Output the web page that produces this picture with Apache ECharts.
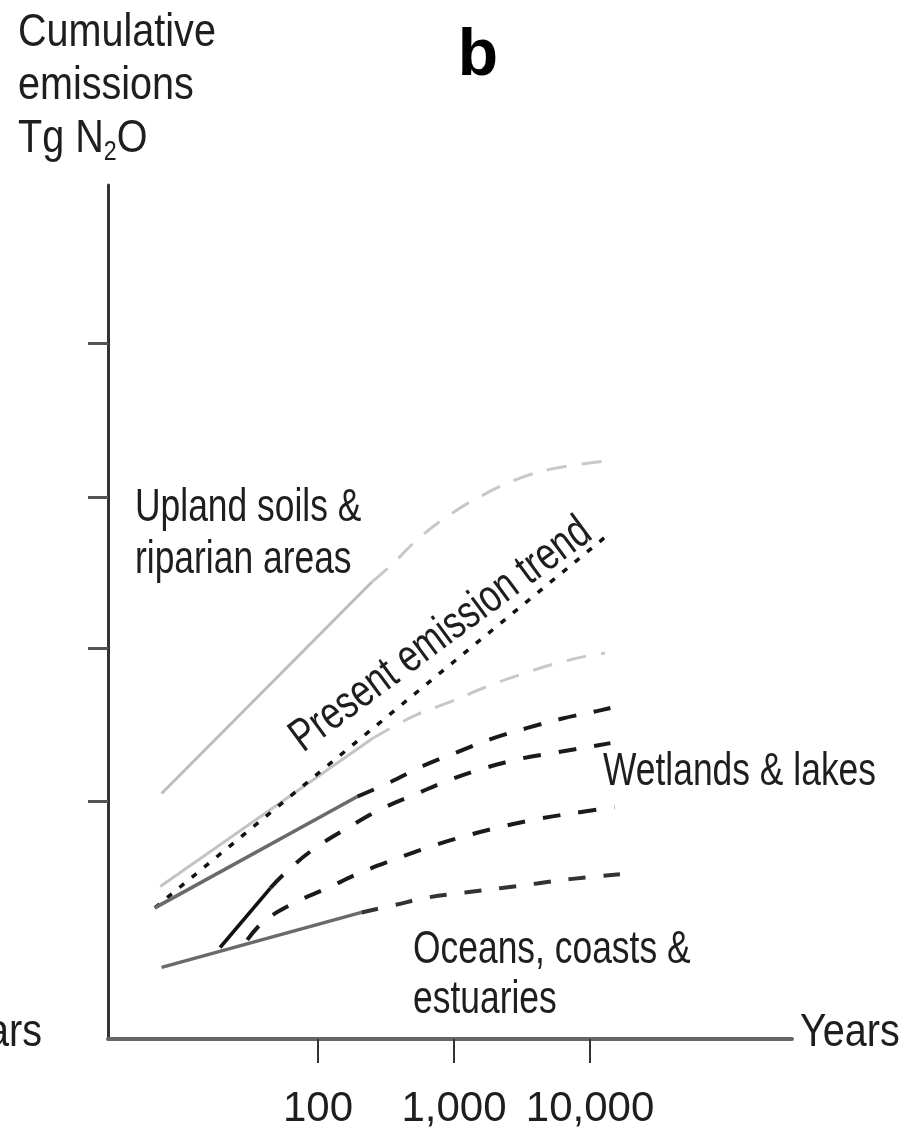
<!DOCTYPE html>
<html>
<head>
<meta charset="utf-8">
<script src="https://cdn.jsdelivr.net/npm/echarts@6/dist/echarts.min.js"></script>
<style>
html, body { margin: 0; padding: 0; background: #fff; }
#chart { width: 904px; height: 1131px; }
</style>
</head>
<body>
<div id="chart"></div>
<script>
// x = log10(years), y = cumulative emissions (schematic units, no scale given)
const xTickYears = [100, 1000, 10000]
const yTicks = [1.56, 2.56, 3.55, 4.56]

// upland soils & riparian areas (light grey)
const uplandHiSolid = [[0.85, 1.61], [2.40, 3.00]]
const uplandHiDash = [[2.40, 3.00], [2.53, 3.10], [2.75, 3.29], [2.99, 3.45], [3.24, 3.58], [3.49, 3.68], [3.73, 3.74], [4.11, 3.79]]
const uplandLoSolid = [[0.84, 1.00], [2.40, 1.97]]
const uplandLoDash = [[2.40, 1.97], [2.71, 2.12], [2.97, 2.21], [3.24, 2.31], [3.49, 2.39], [3.74, 2.46], [4.02, 2.52], [4.11, 2.53]]

// present emission trend (dotted)
const presentTrend = [[0.80, 0.86], [4.11, 3.29]]

// wetlands & lakes
const wetSolid = [[0.80, 0.86], [2.29, 1.59]]
const wet1Dash = [[2.29, 1.59], [2.52, 1.68], [2.77, 1.79], [3.02, 1.88], [3.28, 1.97], [3.54, 2.04], [3.79, 2.10], [4.05, 2.15], [4.15, 2.17]]
const wet2Solid = [[1.28, 0.60], [1.65, 0.99]]
const wet2Dash = [[1.65, 0.99], [1.76, 1.09], [1.96, 1.24], [2.21, 1.38], [2.47, 1.51], [2.73, 1.61], [2.97, 1.70], [3.24, 1.78], [3.50, 1.84], [3.76, 1.88], [4.02, 1.92], [4.15, 1.94]]
const wet3Dash = [[1.48, 0.65], [1.60, 0.77], [1.82, 0.89], [2.07, 0.99], [2.31, 1.09], [2.57, 1.18], [2.82, 1.26], [3.08, 1.33], [3.34, 1.39], [3.60, 1.44], [3.87, 1.48], [4.18, 1.52]]

// oceans, coasts & estuaries
const oceanSolid = [[0.85, 0.47], [2.32, 0.83]]
const oceanDash = [[2.32, 0.83], [2.57, 0.88], [2.82, 0.93], [3.08, 0.96], [3.35, 0.99], [3.61, 1.02], [3.87, 1.05], [4.22, 1.08]]

const FONT = "'Liberation Sans', Arial, sans-serif"
const INK = '#1e1e1e'

function line(data, color, width, type, smooth) {
  return {
    type: 'line',
    data: data,
    smooth: smooth || 0,
    showSymbol: false,
    silent: true,
    lineStyle: { color: color, width: width, type: type || 'solid', cap: 'butt' }
  }
}

// text squeezed horizontally to look like the narrow face of the original
function label(text, x, y, squeeze, opts) {
  return {
    type: 'text',
    x: x,
    y: y,
    scaleX: squeeze,
    rotation: (opts && opts.rotation) || 0,
    silent: true,
    style: Object.assign({
      text: text,
      font: '46px ' + FONT,
      fill: INK,
      align: 'left',
      verticalAlign: 'middle'
    }, (opts && opts.style) || {})
  }
}

let chart = echarts.init(document.getElementById('chart'))
chart.setOption({
  animation: false,
  backgroundColor: '#fff',
  grid: { left: 108, right: 112, top: 185, bottom: 92 },
  xAxis: {
    type: 'value',
    min: 0.456,
    max: 5.485,
    axisLine: { lineStyle: { color: '#666', width: 4 } },
    axisTick: {
      customValues: xTickYears.map(v => Math.log10(v)),
      length: 24,
      lineStyle: { color: '#333', width: 2 }
    },
    axisLabel: {
      customValues: xTickYears.map(v => Math.log10(v)),
      formatter: v => Math.round(Math.pow(10, v)).toLocaleString('en-US'),
      margin: 49,
      fontFamily: FONT,
      fontSize: 42,
      color: INK
    },
    splitLine: { show: false }
  },
  yAxis: {
    type: 'value',
    min: 0,
    max: 5.6,
    axisLine: { show: true, lineStyle: { color: '#333', width: 3 } },
    axisTick: {
      show: true,
      customValues: yTicks,
      length: 20,
      lineStyle: { color: '#555', width: 3 }
    },
    axisLabel: { show: false },
    splitLine: { show: false }
  },
  series: [
    line(uplandHiSolid, '#bdbdbd', 3),
    line(uplandHiDash, '#c8c8c8', 3, [20, 15], 0.4),
    line(uplandLoSolid, '#c4c4c4', 3),
    line(uplandLoDash, '#c8c8c8', 3, [20, 15], 0.4),
    line(presentTrend, '#111', 3.5, [6, 10]),
    line(wetSolid, '#6a6a6a', 3.5),
    line(wet1Dash, '#1a1a1a', 4, [18, 18], 0.4),
    line(wet2Solid, '#111', 3.5),
    line(wet2Dash, '#1a1a1a', 4, [18, 18], 0.4),
    line(wet3Dash, '#1a1a1a', 4, [18, 18], 0.4),
    line(oceanSolid, '#6a6a6a', 3.5),
    line(oceanDash, '#333', 4, [17, 18], 0.4)
  ],
  graphic: [
    label('Cumulative\nemissions\nTg N{sub|2}O', 18, 7, 0.86, {
      style: {
        verticalAlign: 'top',
        lineHeight: 53,
        rich: { sub: { fontSize: 27, fontFamily: FONT, fill: INK, verticalAlign: 'bottom', lineHeight: 16 } }
      }
    }),
    {
      type: 'text', x: 478, y: 57, silent: true,
      style: { text: 'b', font: "bold 66px 'Liberation Sans', Arial, sans-serif", fill: '#000', align: 'center', verticalAlign: 'middle' }
    },
    label('Upland soils &\nriparian areas', 135, 482, 0.77, { style: { verticalAlign: 'top', lineHeight: 52 } }),
    label('Present emission trend', 441, 635, 0.77, { rotation: 36.5 * Math.PI / 180, style: { align: 'center' } }),
    label('Wetlands & lakes', 603, 772, 0.77),
    label('Oceans, coasts &\nestuaries', 413, 925, 0.77, { style: { verticalAlign: 'top', lineHeight: 50 } }),
    label('Years', 800, 1033, 0.86),
    label('Years', 42, 1033, 0.86, { style: { align: 'right' } })
  ]
})
</script>
</body>
</html>
